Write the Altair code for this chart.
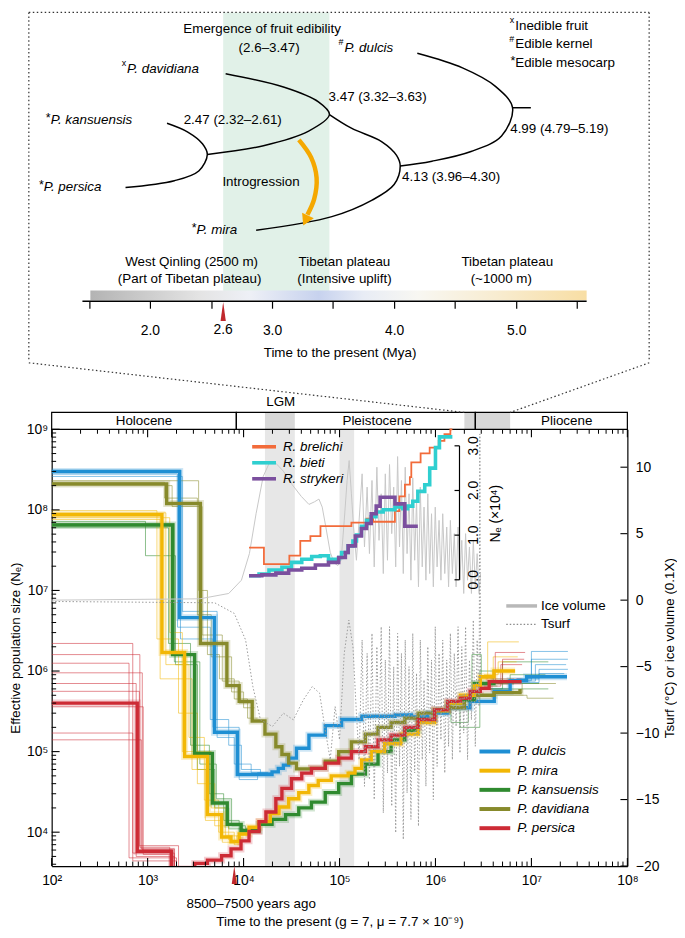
import altair as alt
import pandas as pd

FONT = "Liberation Sans, Arial, sans-serif"
FS = 13.5  # general annotation font size

# ======================= DATA: top panel (divergence times, Mya) =======================
TIP_NAMES = ["P. dulcis", "P. davidiana", "P. kansuensis", "P. persica", "P. mira"]
TIP_MARKS = ["#", "x", "*", "*", "*"]
NODE_LABELS = ["2.47 (2.32–2.61)", "3.47 (3.32–3.63)", "4.13 (3.96–4.30)", "4.99 (4.79–5.19)"]
EDIBLE_WINDOW = [2.6, 3.47]
EDIBLE_TEXT = ["Emergence of fruit edibility", "(2.6–3.47)"]
KEY_MARKS = ["x", "#", "*"]
KEY_LABELS = ["Inedible fruit", "Edible kernel", "Edible mesocarp"]
UPLIFT_LINE1 = ["West Qinling (2500 m)", "Tibetan plateau", "Tibetan plateau"]
UPLIFT_LINE2 = ["(Part of Tibetan plateau)", "(Intensive uplift)", "(~1000 m)"]
MYA_TICKS = [1.5, 2.0, 2.5, 3.0, 3.5, 4.0, 4.5, 5.0, 5.5]
MYA_TICK_LABELS = ["", "2.0", "", "3.0", "", "4.0", "", "5.0", ""]
MARKER_MYA = 2.6

# ======================= DATA: bottom panel (PSMC) =======================
SPECIES = ["P. dulcis", "P. mira", "P. kansuensis", "P. davidiana", "P. persica"]
SPECIES_COLORS = ["#1f8fd3", "#f2b705", "#2f8a2f", "#878a2b", "#cd2b35"]

DULCIS_T = [100, 2160, 4970, 8600, 19800, 23000, 26000, 29500, 35600, 48000, 71000, 105000,
            170000, 380000, 560000, 830000, 1.34e6, 2.3e6, 4.1e6, 6.0e6, 8.9e6, 2.35e7]
DULCIS_NE = [3.0e8, 4.6e6, 1.74e5, 5.2e4, 5.6e4, 6.2e4, 6.8e4, 8.3e4, 1.1e5, 1.6e5, 2.1e5, 2.5e5,
             2.75e5, 2.85e5, 2.7e5, 3.0e5, 3.5e5, 4.2e5, 5.6e5, 7.6e5, 8.5e5, 8.5e5]
MIRA_T = [100, 1410, 2430, 4200, 5900, 7400, 9000, 11400, 14500, 19000, 23400, 29500, 37600, 47900,
          60000, 82000, 123000, 145000, 170000, 214000, 295000, 437000, 660000, 980000, 1.34e6,
          1.82e6, 2.54e6, 2.93e6, 4.07e6, 6.76e6]
MIRA_NE = [8.7e7, 1.7e6, 8.7e4, 1.65e4, 8.7e3, 7.6e3, 9.5e3, 1.15e4, 1.35e4, 1.7e4, 2.05e4, 2.6e4,
           3.1e4, 3.8e4, 4.4e4, 5.0e4, 5.4e4, 6.2e4, 7.9e4, 1.0e5, 1.25e5, 1.65e5, 2.3e5, 3.2e5,
           4.0e5, 5.0e5, 6.6e5, 8.5e5, 1.0e6, 1.0e6]
KANS_T = [100, 1820, 3090, 4730, 6760, 9440, 14500, 19800, 27400, 37600, 51000, 71000, 98000,
          133000, 186000, 252000, 345000, 480000, 660000, 980000, 1.34e6, 1.82e6, 2.54e6, 4.07e6, 6.6e6]
KANS_NE = [6.5e7, 1.6e6, 9.5e4, 2.3e4, 1.25e4, 1.05e4, 1.25e4, 1.44e4, 1.65e4, 2.0e4, 2.36e4, 3.1e4,
           4.0e4, 5.25e4, 7.0e4, 1.0e5, 1.4e5, 1.84e5, 2.5e5, 3.2e5, 4.0e5, 4.4e5, 7.0e5, 7.4e5, 7.4e5]
DAVID_T = [100, 1580, 3550, 6700, 9000, 12300, 16700, 21700, 25100, 29500, 35600, 51000, 71000,
           98000, 133000, 186000, 252000, 345000, 480000, 660000, 980000, 1.34e6, 2.0e6, 2.54e6,
           4.07e6, 7.6e6]
DAVID_NE = [2.1e8, 1.2e8, 2.2e6, 6.6e5, 4.2e5, 2.4e5, 1.65e5, 1.15e5, 9.2e4, 7.2e4, 6.1e4, 6.2e4,
            7.6e4, 1.0e5, 1.32e5, 1.65e5, 2.0e5, 2.3e5, 2.6e5, 3.0e5, 3.3e5, 3.5e5, 4.5e5, 5.0e5,
            5.4e5, 6.0e5]
PERS_T = [100, 780, 1780, 3100, 4200, 5900, 7400, 9400, 11400, 14500, 17100, 21700, 25100, 31600,
          40400, 51000, 71000, 98000, 133000, 186000, 252000, 345000, 480000, 660000, 980000,
          1.34e6, 1.82e6, 2.3e6, 2.93e6, 3.63e6, 7.9e6]
PERS_NE = [4.0e5, 5.8e3, 3.5e3, 4.1e3, 4.5e3, 5.1e3, 6.2e3, 7.8e3, 1.02e4, 1.35e4, 1.78e4, 2.6e4,
           3.5e4, 4.6e4, 5.4e4, 6.2e4, 7.2e4, 8.3e4, 1.0e5, 1.15e5, 1.4e5, 1.6e5, 2.0e5, 2.5e5,
           3.3e5, 4.2e5, 4.6e5, 5.6e5, 6.1e5, 7.4e5, 7.4e5]

# bootstrap replicates (divergent parts only), (years, Ne)
REP_DULCIS = [
    [(100, 2.8e8), (2050, 3.5e6), (4500, 2.5e5), (7000, 1.2e5), (9500, 6.0e4), (15000, 5.0e4)],
    [(100, 2.6e8), (2300, 5.5e6), (5300, 1.5e5), (8000, 7.0e4), (12000, 5.5e4), (18000, 5.5e4)],
    [(100, 3.1e8), (2200, 2.5e6), (4800, 2.0e5), (9000, 4.5e4), (14000, 5.5e4), (20000, 5.5e4)],
    [(6.0e6, 7.6e5), (1.0e7, 1.75e6), (2.4e7, 1.75e6)],
    [(7.0e6, 8.0e5), (1.0e7, 1.4e6), (2.4e7, 1.4e6)],
    [(6.0e6, 7.5e5), (1.1e7, 1.2e6), (2.3e7, 1.2e6)],
    [(7.0e6, 8.0e5), (1.2e7, 1.05e6), (2.4e7, 1.05e6)],
    [(6.0e6, 7.2e5), (1.2e7, 9.3e5), (2.2e7, 9.3e5)],
]
REP_MIRA = [
    [(100, 9.8e7), (1250, 2.5e6), (2100, 3.0e5), (3300, 4.0e4), (5000, 1.2e4), (7000, 8.0e3), (9000, 8.0e3)],
    [(100, 9.2e7), (1550, 1.2e6), (2700, 1.5e5), (3900, 2.5e4), (5500, 1.0e4), (8000, 7.0e3), (9500, 7.0e3)],
    [(100, 8.0e7), (1700, 3.0e6), (2300, 1.0e5), (4600, 2.0e4), (6500, 9.0e3), (9000, 8.5e3), (10000, 8.5e3)],
    [(100, 7.6e7), (1350, 8.0e5), (2900, 6.0e4), (4000, 1.4e4), (6000, 7.5e3), (8500, 9.0e3), (10000, 9.0e3)],
    [(3.0e6, 8.0e5), (3.5e6, 2.3e6), (7.4e6, 2.3e6)],
    [(3.0e6, 8.0e5), (4.0e6, 1.5e6), (7.2e6, 1.5e6)],
    [(3.2e6, 9.0e5), (4.5e6, 1.3e6), (7.0e6, 1.3e6)],
]
REP_KANS = [
    [(100, 7.2e7), (950, 2.7e7), (1950, 1.2e6), (3300, 6.0e4), (5000, 2.0e4), (7000, 1.1e4), (10000, 1.1e4)],
    [(100, 6.0e7), (1650, 2.2e6), (2800, 1.2e5), (4400, 3.0e4), (6200, 1.4e4), (9000, 1.0e4), (12000, 1.0e4)],
    [(100, 6.8e7), (1900, 1.3e6), (3500, 7.0e4), (5200, 2.6e4), (7500, 1.2e4), (10500, 1.1e4), (13000, 1.1e4)],
    [(1.3e6, 4.0e5), (1.45e6, 2.3e5), (2.2e6, 4.5e5), (2.4e6, 1.6e6), (3.0e6, 6.0e5), (1.5e7, 6.0e5)],
    [(3.0e6, 6.0e5), (5.0e6, 1.3e6), (1.5e7, 1.3e6)],
    [(3.0e6, 6.0e5), (6.0e6, 9.0e5), (1.4e7, 9.0e5)],
    [(1.6e6, 3.5e5), (1.8e6, 2.0e5), (2.9e6, 1.0e6), (4.0e6, 7.0e5), (1.2e7, 7.0e5)],
]
REP_DAVID = [
    [(100, 2.3e8), (3400, 1.0e7), (4200, 1.6e6), (5600, 8.0e5), (8000, 4.5e5), (11000, 2.6e5), (14000, 2.6e5)],
    [(100, 2.0e8), (1800, 1.1e8), (3700, 2.8e6), (6000, 7.5e5), (9000, 4.0e5), (12000, 4.0e5)],
    [(100, 2.2e8), (1500, 1.4e8), (3300, 5.0e6), (4600, 1.5e6), (7500, 5.5e5), (10000, 3.5e5), (13000, 3.5e5)],
    [(4.0e6, 5.4e5), (8.0e6, 7.0e5), (1.8e7, 7.0e5)],
    [(4.0e6, 5.0e5), (9.0e6, 4.6e5), (1.7e7, 4.6e5)],
]
REP_PERS = [
    [(100, 2.2e6), (700, 5.5e3), (1900, 3.0e3)],
    [(100, 1.6e6), (830, 6.5e3), (1700, 3.0e3)],
    [(100, 1.25e6), (640, 4.8e3), (2000, 3.0e3)],
    [(100, 9.5e5), (880, 6.0e3), (1800, 3.0e3)],
    [(100, 7.0e5), (760, 5.0e3), (1900, 3.0e3)],
    [(100, 5.6e5), (820, 6.8e3), (2100, 3.0e3)],
    [(100, 3.6e5), (900, 5.3e3), (1800, 3.0e3)],
    [(100, 1.7e5), (700, 4.4e3), (2000, 3.0e3)],
    [(100, 1.4e5), (860, 6.2e3), (1900, 3.0e3)],
    [(3.2e6, 7.0e5), (4.2e6, 1.7e6), (8.6e6, 1.7e6)],
    [(3.5e6, 7.0e5), (5.0e6, 1.4e6), (8.4e6, 1.4e6)],
    [(3.2e6, 6.5e5), (4.8e6, 1.2e6), (8.0e6, 1.2e6)],
]

# Rhinopithecus inset (Ne x 10^4)
INSET_SPECIES = ["R. brelichi", "R. bieti", "R. strykeri"]
INSET_COLORS = ["#f26b3a", "#2fcfd0", "#7b4f9e"]
BREL_T = [11400, 16300, 30000, 39000, 49700, 63300, 133000, 191000, 224000, 378000, 420000, 480000,
          541000, 560000, 700000, 870000, 1.08e6, 1.24e6, 1.43e6, 1.5e6]
BREL_V = [0.72, 0.35, 0.54, 0.87, 0.98, 1.2, 1.28, 1.37, 1.30, 1.54, 1.87, 2.13, 2.30, 2.63, 2.83,
          2.96, 3.11, 3.26, 3.37, 3.37]
BIETI_T = [11400, 14500, 18400, 25100, 31600, 40400, 51300, 63100, 76700, 98000, 105000, 123000,
           138000, 150000, 169000, 191000, 214000, 240000, 285000, 378000, 457000, 513000, 580000,
           655000, 773000, 871000, 1.0e6, 1.1e6, 1.5e6]
BIETI_V = [0.09, 0.13, 0.22, 0.28, 0.39, 0.46, 0.52, 0.54, 0.46, 0.50, 0.61, 0.76, 0.87, 1.0, 1.2,
           1.33, 1.41, 1.52, 1.57, 1.63, 1.59, 1.65, 1.76, 1.98, 2.13, 2.5, 2.96, 3.2, 3.2]
STRYK_T = [11400, 15500, 21700, 29500, 40400, 56000, 76700, 98000, 115000, 123000, 146000, 169000,
           191000, 214000, 241000, 265000, 378000, 479000, 655000]
STRYK_V = [0.09, 0.11, 0.15, 0.22, 0.26, 0.33, 0.39, 0.50, 0.61, 0.76, 0.98, 1.15, 1.26, 1.48, 1.65,
           1.85, 1.70, 1.20, 1.20]
INSET_TICKS = [0, 1, 2, 3]
INSET_TICK_LABELS = ["0.0", "1.0", "2.0", "3.0"]

# climate curves (right axis)
ICE = [(100, 0.0), (3500, 0.1), (7000, 0.5), (9500, 1.5), (11500, 3.5), (13500, 6.5), (16000, 9.3),
       (18500, 10.3), (21000, 10.4), (26000, 9.7), (32000, 8.7), (40000, 7.8), (48000, 7.2),
       (55000, 7.4), (61000, 7.6), (66000, 7.0), (72000, 5.5), (80000, 3.6), (88000, 2.8),
       (96000, 2.6), (104000, 3.0), (112000, 6.0), (120000, 9.0), (126000, 10.5), (133000, 8.0),
       (140000, 5.5), (150000, 3.0), (160000, 6.0), (172000, 9.5), (182000, 4.0), (194000, 8.5),
       (205000, 3.5), (218000, 9.0), (230000, 2.5), (245000, 10.0), (258000, 4.5), (272000, 8.0),
       (286000, 2.0), (300000, 9.5), (316000, 3.0), (332000, 10.2), (350000, 5.0), (367000, 8.5),
       (385000, 2.5), (403000, 10.8), (422000, 4.0), (442000, 9.0), (462000, 2.0), (484000, 10.0),
       (506000, 3.5), (530000, 8.0), (555000, 1.5), (580000, 9.2), (607000, 3.0), (635000, 7.5),
       (665000, 1.0), (695000, 8.5), (728000, 2.5), (760000, 7.0), (795000, 1.5), (832000, 8.0),
       (870000, 2.0), (910000, 6.5), (950000, 1.0), (995000, 7.0), (1.04e6, 2.5), (1.09e6, 6.0),
       (1.14e6, 1.5), (1.19e6, 6.5), (1.25e6, 2.0), (1.31e6, 5.5), (1.37e6, 1.0), (1.43e6, 6.0),
       (1.5e6, 2.0), (1.57e6, 5.0), (1.64e6, 1.0), (1.72e6, 5.5), (1.8e6, 1.5), (1.88e6, 4.5),
       (1.97e6, 0.5), (2.06e6, 5.0), (2.16e6, 1.5), (2.26e6, 4.0), (2.37e6, 0.5), (2.48e6, 4.5),
       (2.6e6, 1.0), (2.72e6, 3.5), (2.85e6, 0.5), (2.95e6, 2.0)]
TSURF = [(100, -0.1), (5000, -0.2), (8000, -1.0), (10500, -3.0), (12500, -6.5), (15000, -9.0),
         (20000, -9.5), (26000, -8.5), (33000, -9.0), (42000, -7.5), (52000, -6.5), (62000, -7.0),
         (70000, -9.5), (80000, -12.0), (90000, -8.0), (100000, -10.5), (112000, -4.0),
         (125000, -1.5), (138000, -3.5), (150000, -8.5), (160000, -12.0), (172000, -3.0),
         (182000, -14.0), (194000, -4.0), (205000, -13.5), (218000, -2.5), (230000, -15.0),
         (245000, -3.5), (258000, -11.0), (272000, -2.0), (286000, -16.0), (300000, -4.5),
         (316000, -13.0), (332000, -2.0), (350000, -15.5), (367000, -5.0), (385000, -17.5),
         (403000, -2.5), (422000, -12.5), (442000, -4.0), (462000, -18.0), (484000, -3.0),
         (506000, -14.5), (530000, -5.0), (555000, -16.5), (580000, -2.5), (607000, -13.0),
         (635000, -5.5), (665000, -17.0), (695000, -3.0), (728000, -12.0), (760000, -6.0),
         (795000, -14.0), (832000, -3.5), (870000, -11.5), (910000, -4.5), (950000, -15.0),
         (995000, -2.0), (1.04e6, -12.5), (1.09e6, -4.0), (1.14e6, -10.5), (1.19e6, -3.0),
         (1.25e6, -13.0), (1.31e6, -4.5), (1.37e6, -11.0), (1.43e6, -2.5), (1.5e6, -12.0),
         (1.57e6, -4.0), (1.64e6, -9.5), (1.72e6, -2.0), (1.8e6, -11.5), (1.88e6, -3.5),
         (1.97e6, -10.0), (2.06e6, -2.0), (2.16e6, -12.0), (2.26e6, -4.5), (2.37e6, -9.0),
         (2.48e6, -1.5), (2.6e6, -11.0), (2.72e6, -3.0), (2.85e6, -8.0), (2.9e6, 12.5),
         (2.95e6, -6.0)]
CLIM_NAMES = ["Ice volume", "Tsurf"]
CLIM_TICKS = [-20, -15, -10, -5, 0, 5, 10]
CLIM_TICK_LABELS = ["−20", "−15", "−10", "−5", "0", "5", "10"]

EPOCHS = ["Holocene", "Pleistocene", "Pliocene"]
EPOCH_START = [100, 8400, 2.6e6]
EPOCH_END = [8400, 2.6e6, 1e8]
EPOCH_LABEL_AT = [916, 246000, 2.33e7]
LGM = [16700, 34200]
INTERGLACIAL = [100000, 142000]
TOP_PANEL_SPAN = [2.0e6, 6.0e6]
DOMESTICATION_YEARS = 8000

X_TICKS = [1e2, 1e3, 1e4, 1e5, 1e6, 1e7, 1e8]
X_TICK_LABELS = ["10²", "10³", "10⁴", "10⁵", "10⁶", "10⁷", "10⁸"]
Y_TICKS = [1e4, 1e5, 1e6, 1e7, 1e8, 1e9]
Y_TICK_LABELS = ["10⁴", "10⁵", "10⁶", "10⁷", "10⁸", "10⁹"]


def label_expr(values, labels):
    expr = "''"
    for v, l in reversed(list(zip(values, labels))):
        tol = abs(v) * 1e-6 + 1e-6
        expr = f"(abs(datum.value - ({v})) <= {tol} ? '{l}' : {expr})"
    return expr


# ======================= TOP PANEL =======================
W, H = 580, 440
T0, T1 = 1.1951, 5.9106          # Mya at the left / right edge of the shared plot width
ROWS = 297
TOP_H = 291

X_TOP = alt.X("t:Q", scale=alt.Scale(domain=[T0, T1], nice=False, zero=False),
              axis=alt.Axis(values=MYA_TICKS, labelExpr=label_expr(MYA_TICKS, MYA_TICK_LABELS),
                            domain=False, grid=False, tickSize=7, tickColor="black", tickWidth=1.2,
                            labelFontSize=14, labelPadding=15, labelColor="black", labelOverlap=False,
                            labelFlush=False,
                            title="Time to the present (Mya)", titleFontSize=FS,
                            titleFontWeight="normal", titlePadding=9, titleColor="black"))
Y_TOP = alt.Y("r:Q", scale=alt.Scale(domain=[ROWS, 0], nice=False, zero=False), axis=None)

# tree layout (schematic positions: x in Mya, r in layout rows)
BRANCHES = {
    "dulcis": [(4.19, 42), (4.56, 57), (4.83, 76), (4.97, 98), (4.88, 127), (4.63, 143), (4.31, 153), (4.05, 158)],
    "root": [(4.97, 98), (5.12, 98)],
    "davidiana": [(2.62, 63), (3.10, 77), (3.38, 92), (3.47, 105), (3.30, 122), (2.93, 137), (2.47, 146)],
    "kp": [(2.14, 114), (2.31, 123), (2.43, 135), (2.47, 146), (2.40, 163), (2.20, 173), (1.80, 180)],
    "mira": [(3.47, 105), (3.65, 119), (3.90, 133), (4.02, 147), (4.05, 158), (4.00, 177), (3.82, 193), (3.49, 210), (2.87, 224)],
}
ARROW = [(3.22, 131), (3.32, 149), (3.365, 170), (3.345, 192), (3.29, 208)]
TIP_AT = [(3.593, 37), (1.813, 58), (1.187, 111), (1.13, 180), (2.382, 224)]
NODE_AT = [(2.276, 111), (3.463, 87), (4.065, 169), (4.951, 120)]
KEY_AT = [(4.992, 14), (4.992, 33), (4.992, 52)]
EDIBLE_AT = [(2.919, 17), (2.976, 37)]
UPLIFT_AT1 = [(2.341, 257), (3.593, 257), (4.927, 257)]
UPLIFT_AT2 = [(2.325, 274), (3.593, 274), (4.878, 274)]

band_top = alt.Chart(pd.DataFrame({"t": [EDIBLE_WINDOW[0]], "t2": [EDIBLE_WINDOW[1]], "r": [0], "r2": [287]})
                     ).mark_rect(color="#e1f1e8").encode(x=X_TOP, x2="t2:Q", y=Y_TOP, y2="r2:Q")

grad = alt.Gradient(gradient="linear", x1=0, x2=1, y1=0, y2=0, stops=[
    alt.GradientStop(color="#b3b3b3", offset=0),
    alt.GradientStop(color="#e4e4e4", offset=0.22),
    alt.GradientStop(color="#eef0f6", offset=0.32),
    alt.GradientStop(color="#c7d2ee", offset=0.46),
    alt.GradientStop(color="#e8ecf5", offset=0.55),
    alt.GradientStop(color="#f8f7f2", offset=0.66),
    alt.GradientStop(color="#f8ecd0", offset=0.82),
    alt.GradientStop(color="#f8dea4", offset=1.0)])
colorbar = alt.Chart(pd.DataFrame({"t": [1.512], "t2": [5.577], "r": [286], "r2": [296]})
                     ).mark_rect(color=grad).encode(x=X_TOP, x2="t2:Q", y=Y_TOP, y2="r2:Q")
axisline = alt.Chart(pd.DataFrame({"t": [1.447], "t2": [5.577], "r": [ROWS]})
                     ).mark_rule(color="black", strokeWidth=1.3).encode(x=X_TOP, x2="t2:Q", y=Y_TOP)

br_rows = []
for name, pts in BRANCHES.items():
    for i, (t, r) in enumerate(pts):
        br_rows.append({"branch": name, "i": i, "t": t, "r": r})
tree = alt.Chart(pd.DataFrame(br_rows)).mark_line(interpolate="catmull-rom", color="black", strokeWidth=1.5
                                                 ).encode(x=X_TOP, y=Y_TOP, detail="branch:N", order="i:Q")

arrow_df = pd.DataFrame([{"i": i, "t": t, "r": r} for i, (t, r) in enumerate(ARROW)])
arrow = alt.Chart(arrow_df).mark_line(interpolate="catmull-rom", color="#f5a800", strokeWidth=4.5
                                      ).encode(x=X_TOP, y=Y_TOP, order="i:Q")
arrowhead = alt.Chart(pd.DataFrame({"t": [ARROW[-1][0] - 0.015], "r": [ARROW[-1][1] + 6]})).mark_point(
    shape="triangle-down", filled=True, color="#f5a800", size=170, angle=25, opacity=1).encode(x=X_TOP, y=Y_TOP)

tips = pd.DataFrame({"label": TIP_NAMES, "mark": TIP_MARKS,
                     "t": [p[0] for p in TIP_AT], "r": [p[1] for p in TIP_AT]})
tip_text = alt.Chart(tips).mark_text(align="left", baseline="middle", fontSize=FS, fontStyle="italic",
                                     color="black").encode(x=X_TOP, y=Y_TOP, text="label:N")
keys = pd.DataFrame({"label": KEY_LABELS, "mark": KEY_MARKS,
                     "t": [p[0] for p in KEY_AT], "r": [p[1] for p in KEY_AT]})
key_text = alt.Chart(keys).mark_text(align="left", baseline="middle", fontSize=FS, color="black"
                                     ).encode(x=X_TOP, y=Y_TOP, text="label:N")
sups = pd.concat([tips[["mark", "t", "r"]], keys[["mark", "t", "r"]]], ignore_index=True)
sup_small = alt.Chart(sups).transform_filter("datum.mark != '*'").mark_text(
    align="right", baseline="middle", fontSize=9, dx=-1, dy=-6, color="black").encode(x=X_TOP, y=Y_TOP, text="mark:N")
sup_star = alt.Chart(sups).transform_filter("datum.mark == '*'").mark_text(
    align="right", baseline="middle", fontSize=12.5, dx=0, dy=-2, color="black").encode(x=X_TOP, y=Y_TOP, text="mark:N")

nodes = pd.DataFrame({"label": NODE_LABELS, "t": [p[0] for p in NODE_AT], "r": [p[1] for p in NODE_AT]})
node_text = alt.Chart(nodes).mark_text(align="left", baseline="middle", fontSize=FS, color="black"
                                       ).encode(x=X_TOP, y=Y_TOP, text="label:N")
ctext = pd.DataFrame({
    "label": EDIBLE_TEXT + ["Introgression"] + UPLIFT_LINE1 + UPLIFT_LINE2,
    "t": [p[0] for p in EDIBLE_AT] + [2.91] + [p[0] for p in UPLIFT_AT1] + [p[0] for p in UPLIFT_AT2],
    "r": [p[1] for p in EDIBLE_AT] + [174] + [p[1] for p in UPLIFT_AT1] + [p[1] for p in UPLIFT_AT2]})
center_text = alt.Chart(ctext).mark_text(align="center", baseline="middle", fontSize=FS, color="black"
                                         ).encode(x=X_TOP, y=Y_TOP, text="label:N")

marker = alt.Chart(pd.DataFrame({"t": [MARKER_MYA], "r": [307.5], "label": [f"{MARKER_MYA:.1f}"]}))
marker_tri = marker.mark_point(shape="M0,-1L0.28,1L-0.28,1Z", filled=True, color="#c0282d", size=360,
                               opacity=1).encode(x=X_TOP, y=Y_TOP)
marker_lbl = marker.mark_text(fontSize=14, baseline="middle", color="black", dy=19).encode(x=X_TOP, y=Y_TOP, text="label:N")

BOX_L, BOX_R, BOX_B = 1.008, 6.089, 358
box_df = pd.DataFrame({"t": [BOX_L, BOX_R, BOX_L], "t2": [BOX_L, BOX_R, BOX_R], "r": [0, 0, 0], "r2": [BOX_B, BOX_B, 0]})
box = alt.Chart(box_df).mark_rule(strokeDash=[1.5, 2.5], color="#333", strokeWidth=1.2
                                  ).encode(x=X_TOP, x2="t2:Q", y=Y_TOP, y2="r2:Q")

top = alt.layer(band_top, colorbar, axisline, tree, arrow, arrowhead, tip_text, key_text, sup_small, sup_star,
                node_text, center_text, marker_tri, marker_lbl, box).properties(width=W, height=TOP_H)

# ======================= BOTTOM PANEL =======================
XS = alt.Scale(type="log", domain=[100, 1e8], nice=False)
YS = alt.Scale(type="log", domain=[3800, 1e9], nice=False)
X_MAIN = alt.X("t:Q", scale=XS, axis=alt.Axis(
    values=X_TICKS, labelExpr=label_expr(X_TICKS, X_TICK_LABELS), ticks=False, tickSize=0, grid=False,
    domainColor="black", domainWidth=1.2, labelFontSize=14, labelPadding=8, labelColor="black",
    labelFlush=False, labelOverlap=False,
    title="Time to the present (g = 7, μ = 7.7 × 10⁻⁹)", titleFontSize=FS, titleFontWeight="normal",
    titlePadding=27, titleColor="black"))
Y_MAIN = alt.Y("ne:Q", scale=YS, axis=alt.Axis(
    values=Y_TICKS, labelExpr=label_expr(Y_TICKS, Y_TICK_LABELS), ticks=False, tickSize=0, grid=False,
    domainColor="black", domainWidth=1.2, labelFontSize=14, labelPadding=4, labelColor="black",
    labelFlush=False, labelOverlap=False,
    title="Effective population size (Nₑ)", titleFontSize=FS, titleFontWeight="normal",
    titlePadding=4, titleColor="black"))
X_OTHER = alt.X("t:Q", scale=XS, axis=None)


def ry(ref_y):
    return (ref_y - 423) * H / 450.0


def rx(ref_x):
    return ref_x - 51.0


bands = alt.Chart(pd.DataFrame({"t": [LGM[0], INTERGLACIAL[0]], "t2": [LGM[1], INTERGLACIAL[1]]})
                  ).mark_rect(color="#e7e7e7").encode(x=X_MAIN, x2="t2:Q")
epoch_grey = alt.Chart(pd.DataFrame({"t": [LGM[0], TOP_PANEL_SPAN[0]], "t2": [LGM[1], TOP_PANEL_SPAN[1]]})
                       ).mark_rect(color="#d8d8d8").encode(x=X_MAIN, x2="t2:Q", y=alt.value(-17), y2=alt.value(0))
epoch_box = alt.Chart(pd.DataFrame({"t": EPOCH_START, "t2": EPOCH_END})).mark_rect(
    fillOpacity=0, stroke="black", strokeWidth=1.2).encode(x=X_MAIN, x2="t2:Q", y=alt.value(-17), y2=alt.value(0))
epoch_txt = alt.Chart(pd.DataFrame({"t": EPOCH_LABEL_AT, "label": EPOCHS})).mark_text(
    fontSize=FS, baseline="middle", color="black").encode(x=X_MAIN, y=alt.value(-8), text="label:N")
lgm_txt = alt.Chart(pd.DataFrame({"t": [(LGM[0] * LGM[1]) ** 0.5 * 1.02], "label": ["LGM"]})).mark_text(
    fontSize=FS, baseline="middle", color="black").encode(x=X_MAIN, y=alt.value(-27), text="label:N")
CONN_TOP = -67
conn = alt.Chart(pd.DataFrame({"t": [57.8, 1.69e8], "t2": TOP_PANEL_SPAN})).mark_rule(
    strokeDash=[1.5, 2.5], color="#333", strokeWidth=1.2).encode(
    x=X_MAIN, x2="t2:Q", y=alt.value(CONN_TOP), y2=alt.value(-17))

color_scale = alt.Scale(domain=SPECIES, range=SPECIES_COLORS)
main_rows = []
for sp, T, N in zip(["P. dulcis", "P. davidiana", "P. kansuensis", "P. mira", "P. persica"],
                    [DULCIS_T, DAVID_T, KANS_T, MIRA_T, PERS_T],
                    [DULCIS_NE, DAVID_NE, KANS_NE, MIRA_NE, PERS_NE]):
    for t, n in zip(T, N):
        main_rows.append({"species": sp, "t": t, "ne": n})
main_df = pd.DataFrame(main_rows)
rep_rows = []
for sp, reps in zip(["P. dulcis", "P. davidiana", "P. kansuensis", "P. mira", "P. persica"],
                    [REP_DULCIS, REP_DAVID, REP_KANS, REP_MIRA, REP_PERS]):
    for k, rep in enumerate(reps):
        for t, n in rep:
            rep_rows.append({"species": sp, "rep": f"{sp}-{k}", "t": t, "ne": n})
rep_df = pd.DataFrame(rep_rows)

reps = alt.Chart(rep_df).mark_line(interpolate="step-after", strokeWidth=1, opacity=0.55, clip=True).encode(
    x=X_MAIN, y=Y_MAIN, detail="rep:N", color=alt.Color("species:N", scale=color_scale, legend=None))
halo = alt.Chart(main_df).mark_line(interpolate="step-after", strokeWidth=7, opacity=0.22, clip=True).encode(
    x=X_MAIN, y=Y_MAIN, detail="species:N", color=alt.Color("species:N", scale=color_scale, legend=None))
mains = alt.Chart(main_df).mark_line(interpolate="step-after", strokeWidth=3.4, clip=True).encode(
    x=X_MAIN, y=Y_MAIN, detail="species:N", color=alt.Color("species:N", scale=color_scale, legend=None))

x_minor = [m * 10 ** k for k in range(2, 8) for m in range(2, 10)]
y_minor = [m * 10 ** k for k in range(3, 9) for m in range(2, 10) if 3800 <= m * 10 ** k <= 1e9]
xmaj_df = pd.DataFrame({"t": X_TICKS})
xmin_df = pd.DataFrame({"t": x_minor})
tick_layers = [
    alt.Chart(xmaj_df).mark_rule(color="black", strokeWidth=1.1).encode(x=X_MAIN, y=alt.value(H), y2=alt.value(H - 8)),
    alt.Chart(xmin_df).mark_rule(color="black", strokeWidth=1).encode(x=X_MAIN, y=alt.value(H), y2=alt.value(H - 4.5)),
    alt.Chart(xmaj_df).mark_rule(color="black", strokeWidth=1.1).encode(x=X_MAIN, y=alt.value(0), y2=alt.value(8)),
    alt.Chart(xmin_df).mark_rule(color="black", strokeWidth=1).encode(x=X_MAIN, y=alt.value(0), y2=alt.value(4.5)),
    alt.Chart(pd.DataFrame({"ne": Y_TICKS})).mark_rule(color="black", strokeWidth=1.1).encode(
        y=Y_MAIN, x=alt.value(0), x2=alt.value(8)),
    alt.Chart(pd.DataFrame({"ne": y_minor})).mark_rule(color="black", strokeWidth=1).encode(
        y=Y_MAIN, x=alt.value(0), x2=alt.value(4.5)),
]
dom = alt.Chart(pd.DataFrame({"t": [DOMESTICATION_YEARS], "label": ["8500–7500 years ago"]}))
dom_tri = dom.mark_point(shape="M0,-1L0.28,1L-0.28,1Z", filled=True, color="#c0282d", size=330, opacity=1
                         ).encode(x=X_MAIN, y=alt.value(H + 9))
dom_txt = dom.mark_text(fontSize=FS, baseline="middle", color="black", dx=17).encode(
    x=X_MAIN, y=alt.value(H + 38), text="label:N")

main_group = alt.layer(bands, epoch_grey, epoch_box, epoch_txt, lgm_txt, conn, reps, halo, mains,
                       *tick_layers, dom_tri, dom_txt)

# climate curves (right axis)
CS = alt.Scale(domain=[-20, 12.85], nice=False, zero=False)
Y_CLIM = alt.Y("v:Q", scale=CS, axis=alt.Axis(
    orient="right", values=CLIM_TICKS, labelExpr=label_expr(CLIM_TICKS, CLIM_TICK_LABELS), ticks=False,
    tickSize=0, grid=False, domainColor="black", domainWidth=1.2, labelFontSize=14, labelPadding=8,
    labelColor="black", labelFlush=False, labelOverlap=False, title="Tsurf (°C) or ice volume (0.1X)",
    titleFontSize=FS, titleFontWeight="normal", titlePadding=4, titleColor="black", titleAngle=270,
    titleBaseline="top"))
ice = alt.Chart(pd.DataFrame({"t": [p[0] for p in ICE], "v": [p[1] for p in ICE]})).mark_line(
    color="#c8c8c8", strokeWidth=1).encode(x=X_OTHER, y=Y_CLIM)
tsurf = alt.Chart(pd.DataFrame({"t": [p[0] for p in TSURF], "v": [p[1] for p in TSURF]})).mark_line(
    color="#9a9a9a", strokeWidth=1, strokeDash=[1.5, 2]).encode(x=X_OTHER, y=Y_CLIM)
rticks = alt.Chart(pd.DataFrame({"v": CLIM_TICKS})).mark_rule(color="black", strokeWidth=1.1).encode(
    y=Y_CLIM, x=alt.value(W), x2=alt.value(W - 7))
clim_group = alt.layer(ice, tsurf, rticks)

# inset (Rhinopithecus), linear Ne x 10^4
IS = alt.Scale(domain=[-6.41, 3.37], nice=False, zero=False)
Y_IN = alt.Y("v:Q", scale=IS, axis=None)
in_rows = []
for sp, T, V, w in zip(INSET_SPECIES, [BREL_T, BIETI_T, STRYK_T], [BREL_V, BIETI_V, STRYK_V], [1.8, 3.6, 3.6]):
    for t, v in zip(T, V):
        in_rows.append({"sp": sp, "t": t, "v": v, "w": w})
inset_lines = alt.Chart(pd.DataFrame(in_rows)).mark_line(interpolate="step-after").encode(
    x=X_OTHER, y=Y_IN, detail="sp:N",
    color=alt.Color("sp:N", scale=alt.Scale(domain=INSET_SPECIES, range=INSET_COLORS), legend=None),
    strokeWidth=alt.StrokeWidth("w:Q", scale=None))
IN_AXIS_T = 1.78e6
in_axis = alt.Chart(pd.DataFrame({"t": [IN_AXIS_T], "v": [0], "v2": [3]})).mark_rule(
    color="black", strokeWidth=1.2).encode(x=X_OTHER, y=Y_IN, y2="v2:Q")
in_ticks = alt.Chart(pd.DataFrame({"t": [IN_AXIS_T] * 4, "t2": [1.58e6] * 4, "v": INSET_TICKS})).mark_rule(
    color="black", strokeWidth=1.2).encode(x=X_OTHER, x2="t2:Q", y=Y_IN)
in_lbls = alt.Chart(pd.DataFrame({"t": [IN_AXIS_T] * 4, "v": INSET_TICKS, "label": INSET_TICK_LABELS})).mark_text(
    angle=270, fontSize=14, baseline="middle", align="center", color="black", xOffset=15).encode(
    x=X_OTHER, y=Y_IN, text="label:N")
in_title = alt.Chart(pd.DataFrame({"t": [IN_AXIS_T], "v": [1.48], "label": ["Nₑ (×10⁴)"]})).mark_text(
    angle=270, fontSize=14, baseline="middle", align="center", color="black", xOffset=37).encode(
    x=X_OTHER, y=Y_IN, text="label:N")
inset_group = alt.layer(inset_lines, in_axis, in_ticks, in_lbls, in_title)

# legends (drawn as marks, positioned inside the plot)
sp_leg = ["P. dulcis", "P. mira", "P. kansuensis", "P. davidiana", "P. persica"]
sp_col = dict(zip(SPECIES, SPECIES_COLORS))
leg_sp = pd.DataFrame({"label": sp_leg, "color": [sp_col[s] for s in sp_leg]})
leg_sp = leg_sp.assign(x1=rx(482), x2=rx(513), xt=rx(520), y=[ry(755 + i * 19.75) for i in range(5)], w=4)
leg_in = pd.DataFrame({"label": INSET_SPECIES, "color": INSET_COLORS})
leg_in = leg_in.assign(x1=rx(253), x2=rx(277), xt=rx(284), y=[ry(441 + i * 16.5) for i in range(3)], w=3.6)
leg_lines = pd.concat([leg_sp, leg_in], ignore_index=True)
LX = alt.X("x1:Q", scale=None, axis=None)
LY = alt.Y("y:Q", scale=None, axis=None)
leg_rule = alt.Chart(leg_lines).mark_rule(strokeCap="butt").encode(
    x=LX, x2="x2:Q", y=LY, color=alt.Color("color:N", scale=None), strokeWidth=alt.StrokeWidth("w:Q", scale=None))
leg_txt = alt.Chart(leg_lines).mark_text(align="left", baseline="middle", fontSize=FS, fontStyle="italic",
                                         color="black").encode(x=alt.X("xt:Q", scale=None, axis=None), y=LY, text="label:N")
leg_cl = pd.DataFrame({"label": CLIM_NAMES, "x1": rx(509), "x2": rx(540), "xt": rx(544),
                       "y": [ry(605), ry(624)]})
leg_cl_solid = alt.Chart(leg_cl.iloc[[0]]).mark_rule(color="#b8b8b8", strokeWidth=3.5, strokeCap="butt").encode(
    x=LX, x2="x2:Q", y=LY)
leg_cl_dot = alt.Chart(leg_cl.iloc[[1]]).mark_rule(color="#8a8a8a", strokeWidth=1.3, strokeDash=[1.5, 2]).encode(
    x=LX, x2="x2:Q", y=LY)
leg_cl_txt = alt.Chart(leg_cl).mark_text(align="left", baseline="middle", fontSize=FS, color="black").encode(
    x=alt.X("xt:Q", scale=None, axis=None), y=LY, text="label:N")
legend_group = alt.layer(leg_rule, leg_txt, leg_cl_solid, leg_cl_dot, leg_cl_txt)

bottom = alt.layer(main_group, clim_group, inset_group, legend_group).resolve_scale(
    x="independent", y="independent", color="independent").properties(width=W, height=H)

chart = alt.vconcat(top, bottom, spacing=0).properties(padding=0).configure_view(stroke=None).configure_text(
    font=FONT).configure_axis(labelFont=FONT, titleFont=FONT)

chart.save("out.html", embed_options={"renderer": "svg", "actions": False})
